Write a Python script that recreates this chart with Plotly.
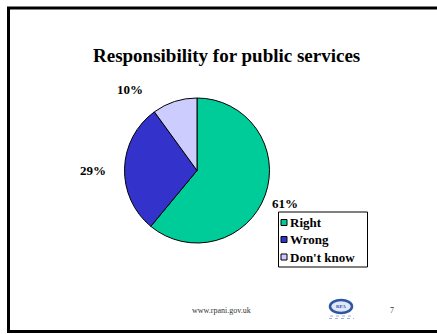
import plotly.graph_objects as go

# Survey answers
categories = ["Right", "Wrong", "Don't know"]
shares = [61, 29, 10]
colors = ["#00CC99", "#3333CC", "#CCCCFF"]

W, H = 437, 334
SERIF = "Liberation Serif, Times New Roman, serif"


def px(x):
    return x / W


def py(y):
    return 1 - y / H


fig = go.Figure()

# Pie, starting at 12 o'clock, going clockwise
cx, cy, r = 197, 170.5, 72.5
fig.add_trace(go.Pie(
    labels=categories,
    values=shares,
    marker=dict(colors=colors, line=dict(color="black", width=1)),
    sort=False,
    direction="clockwise",
    rotation=0,
    textinfo="none",
    hoverinfo="label+percent",
    showlegend=False,
    domain=dict(x=[px(cx - r), px(cx + r)], y=[py(cy + r), py(cy - r)]),
))

annotations = []
shapes = []

# Title
annotations.append(dict(
    text="<b>Responsibility for public services</b>",
    x=px(226), y=py(55), xref="paper", yref="paper",
    showarrow=False, font=dict(family=SERIF, size=19, color="black"),
    xanchor="center", yanchor="middle",
))

# Percentage labels beside each slice
label_pos = [(285, 203), (93, 170), (130, 89)]
for v, (lx, ly) in zip(shares, label_pos):
    annotations.append(dict(
        text=f"<b>{v}%</b>", x=px(lx), y=py(ly), xref="paper", yref="paper",
        showarrow=False, font=dict(family=SERIF, size=13, color="black"),
        xanchor="center", yanchor="middle",
    ))

# Legend box
lx0, ly0, lx1, ly1 = 278.5, 212, 367.5, 267
shapes.append(dict(type="rect", xref="paper", yref="paper",
                   x0=px(lx0), x1=px(lx1), y0=py(ly1), y1=py(ly0),
                   line=dict(color="black", width=1), fillcolor="white"))
row_y = [222.5, 239.5, 257]
for name, col, ry in zip(categories, colors, row_y):
    shapes.append(dict(type="rect", xref="paper", yref="paper",
                       x0=px(281), x1=px(287), y0=py(ry + 3), y1=py(ry - 3),
                       line=dict(color="black", width=1), fillcolor=col))
    annotations.append(dict(
        text=f"<b>{name}</b>", x=px(288), y=py(ry), xref="paper", yref="paper",
        showarrow=False, font=dict(family=SERIF, size=13, color="black"),
        xanchor="left", yanchor="middle",
    ))

# Slide frame
frame = dict(color="black", width=3)
shapes.append(dict(type="line", xref="paper", yref="paper",
                   x0=px(8.5), x1=px(8.5), y0=py(7), y1=py(332.5), line=frame))
shapes.append(dict(type="line", xref="paper", yref="paper",
                   x0=px(7), x1=px(437), y0=py(8), y1=py(8), line=frame))
shapes.append(dict(type="line", xref="paper", yref="paper",
                   x0=px(7), x1=px(437), y0=py(331.5), y1=py(331.5), line=frame))

# Footer
annotations.append(dict(
    text="www.rpani.gov.uk", x=px(221), y=py(310), xref="paper", yref="paper",
    showarrow=False, font=dict(family=SERIF, size=8, color="#333333"),
    xanchor="center", yanchor="middle",
))
annotations.append(dict(
    text="7", x=px(392), y=py(310), xref="paper", yref="paper",
    showarrow=False, font=dict(family=SERIF, size=8, color="#333333"),
    xanchor="center", yanchor="middle",
))

# RPA logo
shapes.append(dict(type="circle", xref="paper", yref="paper",
                   x0=px(330), x1=px(352), y0=py(313), y1=py(300),
                   line=dict(color="#2f55a4", width=2.5), fillcolor="#dfe8f6"))
annotations.append(dict(
    text="<b>RPA</b>", x=px(341), y=py(306.5), xref="paper", yref="paper",
    showarrow=False, font=dict(family=SERIF, size=5, color="#2f55a4"),
    xanchor="center", yanchor="middle",
))
for ty, (tx0, tx1) in zip([316, 318.5], [(330, 353), (329, 354)]):
    shapes.append(dict(type="line", xref="paper", yref="paper",
                       x0=px(tx0), x1=px(tx1), y0=py(ty), y1=py(ty),
                       line=dict(color="#9fb3d8", width=1, dash="dot")))

fig.update_layout(
    width=W, height=H,
    margin=dict(l=0, r=0, t=0, b=0),
    paper_bgcolor="white", plot_bgcolor="white",
    annotations=annotations, shapes=shapes,
    showlegend=False,
)

fig.write_html("out.html")
